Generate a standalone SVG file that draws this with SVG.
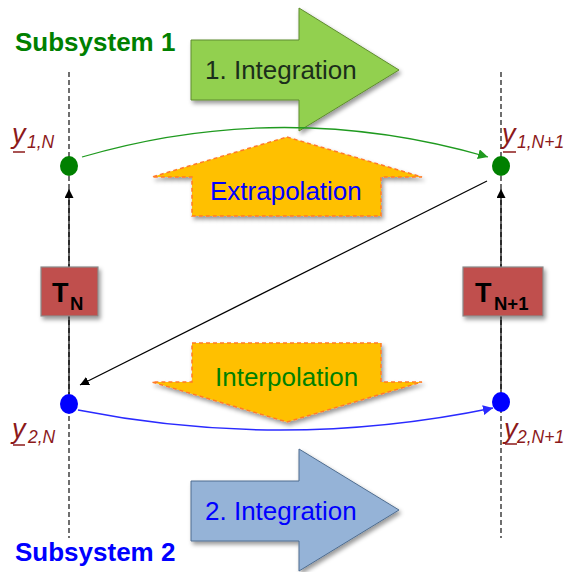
<svg xmlns="http://www.w3.org/2000/svg" width="569" height="572" viewBox="0 0 569 572">
<defs>
<filter id="sh" x="-20%" y="-20%" width="140%" height="140%">
<feDropShadow dx="2" dy="3" stdDeviation="2" flood-color="#000" flood-opacity="0.4"/>
</filter>
<marker id="ab" viewBox="0 0 10 10" refX="10" refY="5" markerWidth="9" markerHeight="9" markerUnits="userSpaceOnUse" orient="auto"><path d="M0,0 L10,5 L0,10 z" fill="#000"/></marker>
<marker id="ag" viewBox="0 0 10 10" refX="10" refY="5" markerWidth="10" markerHeight="10" markerUnits="userSpaceOnUse" orient="auto"><path d="M0,0 L10,5 L0,10 z" fill="#1f9a1f"/></marker>
<marker id="abl" viewBox="0 0 10 10" refX="10" refY="5" markerWidth="10" markerHeight="10" markerUnits="userSpaceOnUse" orient="auto"><path d="M0,0 L10,5 L0,10 z" fill="#2a2aff"/></marker>
</defs>
<style>
.dash{stroke:#222;stroke-width:1.3;stroke-dasharray:5,3;fill:none}
.ln{stroke:#000;stroke-width:1.2;fill:none}
.big{font-family:"Liberation Sans",Arial,sans-serif;font-size:26px}
.sub{font-family:"Liberation Sans",Arial,sans-serif;font-weight:bold;font-size:26px}
.box{fill:#C0504D;stroke:#8a8a8a;stroke-width:1.2}
.tb{font-family:"Liberation Sans",Arial,sans-serif;font-weight:bold;fill:#000}
.lbl{font-family:"Liberation Sans",Arial,sans-serif;font-style:italic;fill:#8C1A1A}
.orange{fill:#FFC000;stroke:#FF7A2A;stroke-width:1.5;stroke-dasharray:4,3}
</style>
<rect width="569" height="572" fill="#fff"/>

<g id="timelines">
<line class="dash" x1="69" y1="72" x2="69" y2="538"/>
<line class="dash" x1="501" y1="72" x2="501" y2="538"/>
</g>

<g id="subsystem1"><text class="sub" x="15" y="51" fill="#008000">Subsystem 1</text></g>
<g id="subsystem2"><text class="sub" x="15" y="561" fill="#0000FF">Subsystem 2</text></g>

<g id="integration1">
<polygon points="191,40 299,40 299,8 399,70 299,131 299,100 191,100" fill="#92D050" stroke="#5E8B2E" stroke-width="1" filter="url(#sh)"/>
<text class="big" x="205" y="79" fill="#1b2e1b">1. Integration</text>
</g>

<g id="integration2">
<polygon points="191,481 299,481 299,449 399,510 299,571 299,541 191,541" fill="#95B3D7" stroke="#4F6D8F" stroke-width="1" filter="url(#sh)"/>
<text class="big" x="205" y="520" fill="#0000FF">2. Integration</text>
</g>

<g id="extrapolation">
<polygon class="orange" points="287,137 422,177 381,177 381,216 192,216 192,177 152,177" filter="url(#sh)"/>
<text class="big" x="210" y="200" fill="#0000FF">Extrapolation</text>
</g>

<g id="interpolation">
<polygon class="orange" points="192,343 381,343 381,382 422,382 287,422 152,382 192,382" filter="url(#sh)"/>
<text class="big" x="215" y="386" fill="#008000">Interpolation</text>
</g>

<g id="connectors">
<line class="ln" x1="69" y1="267" x2="69" y2="189" marker-end="url(#ab)"/>
<line class="ln" x1="69" y1="316" x2="69" y2="394"/>
<line class="ln" x1="501" y1="267" x2="501" y2="189" marker-end="url(#ab)"/>
<line class="ln" x1="501" y1="316" x2="501" y2="392"/>
<line class="ln" x1="487" y1="181" x2="80" y2="385" marker-end="url(#ab)"/>
<path d="M82,157 Q284,98 488,157" stroke="#1f9a1f" stroke-width="1.3" fill="none" marker-end="url(#ag)"/>
<path d="M78,410 Q285,451 493,408" stroke="#2a2aff" stroke-width="1.5" fill="none" marker-end="url(#abl)"/>
</g>

<g id="TN">
<rect class="box" x="41" y="267" width="57" height="49" filter="url(#sh)"/>
<text class="tb" x="52" y="302" font-size="27">T</text>
<text class="tb" x="70" y="310" font-size="18.5">N</text>
</g>
<g id="TN1">
<rect class="box" x="463" y="267" width="80" height="49" filter="url(#sh)"/>
<text class="tb" x="475" y="302" font-size="27">T</text>
<text class="tb" x="494" y="310" font-size="18.5">N+1</text>
</g>

<g id="y1N">
<ellipse cx="69" cy="166" rx="9" ry="10" fill="#008000"/>
<text class="lbl" x="12" y="143" font-size="27">y</text>
<line x1="13" y1="152" x2="25" y2="152" stroke="#8C1A1A" stroke-width="1.5"/>
<text class="lbl" x="27" y="148" font-size="17.5">1,N</text>
</g>
<g id="y1N1">
<ellipse cx="501" cy="166" rx="9" ry="10" fill="#008000"/>
<text class="lbl" x="502" y="143" font-size="27">y</text>
<line x1="503" y1="152" x2="516" y2="152" stroke="#8C1A1A" stroke-width="1.5"/>
<text class="lbl" x="517" y="148" font-size="17.5">1,N+1</text>
</g>
<g id="y2N">
<ellipse cx="69" cy="404" rx="9" ry="10" fill="#0000FF"/>
<text class="lbl" x="12" y="438" font-size="27">y</text>
<line x1="13" y1="445" x2="25" y2="445" stroke="#8C1A1A" stroke-width="1.5"/>
<text class="lbl" x="28" y="443" font-size="17.5">2,N</text>
</g>
<g id="y2N1">
<ellipse cx="501" cy="402" rx="9" ry="10" fill="#0000FF"/>
<text class="lbl" x="504" y="438" font-size="27">y</text>
<line x1="505" y1="444" x2="517" y2="444" stroke="#8C1A1A" stroke-width="1.5"/>
<text class="lbl" x="517" y="443" font-size="17.5">2,N+1</text>
</g>
</svg>
